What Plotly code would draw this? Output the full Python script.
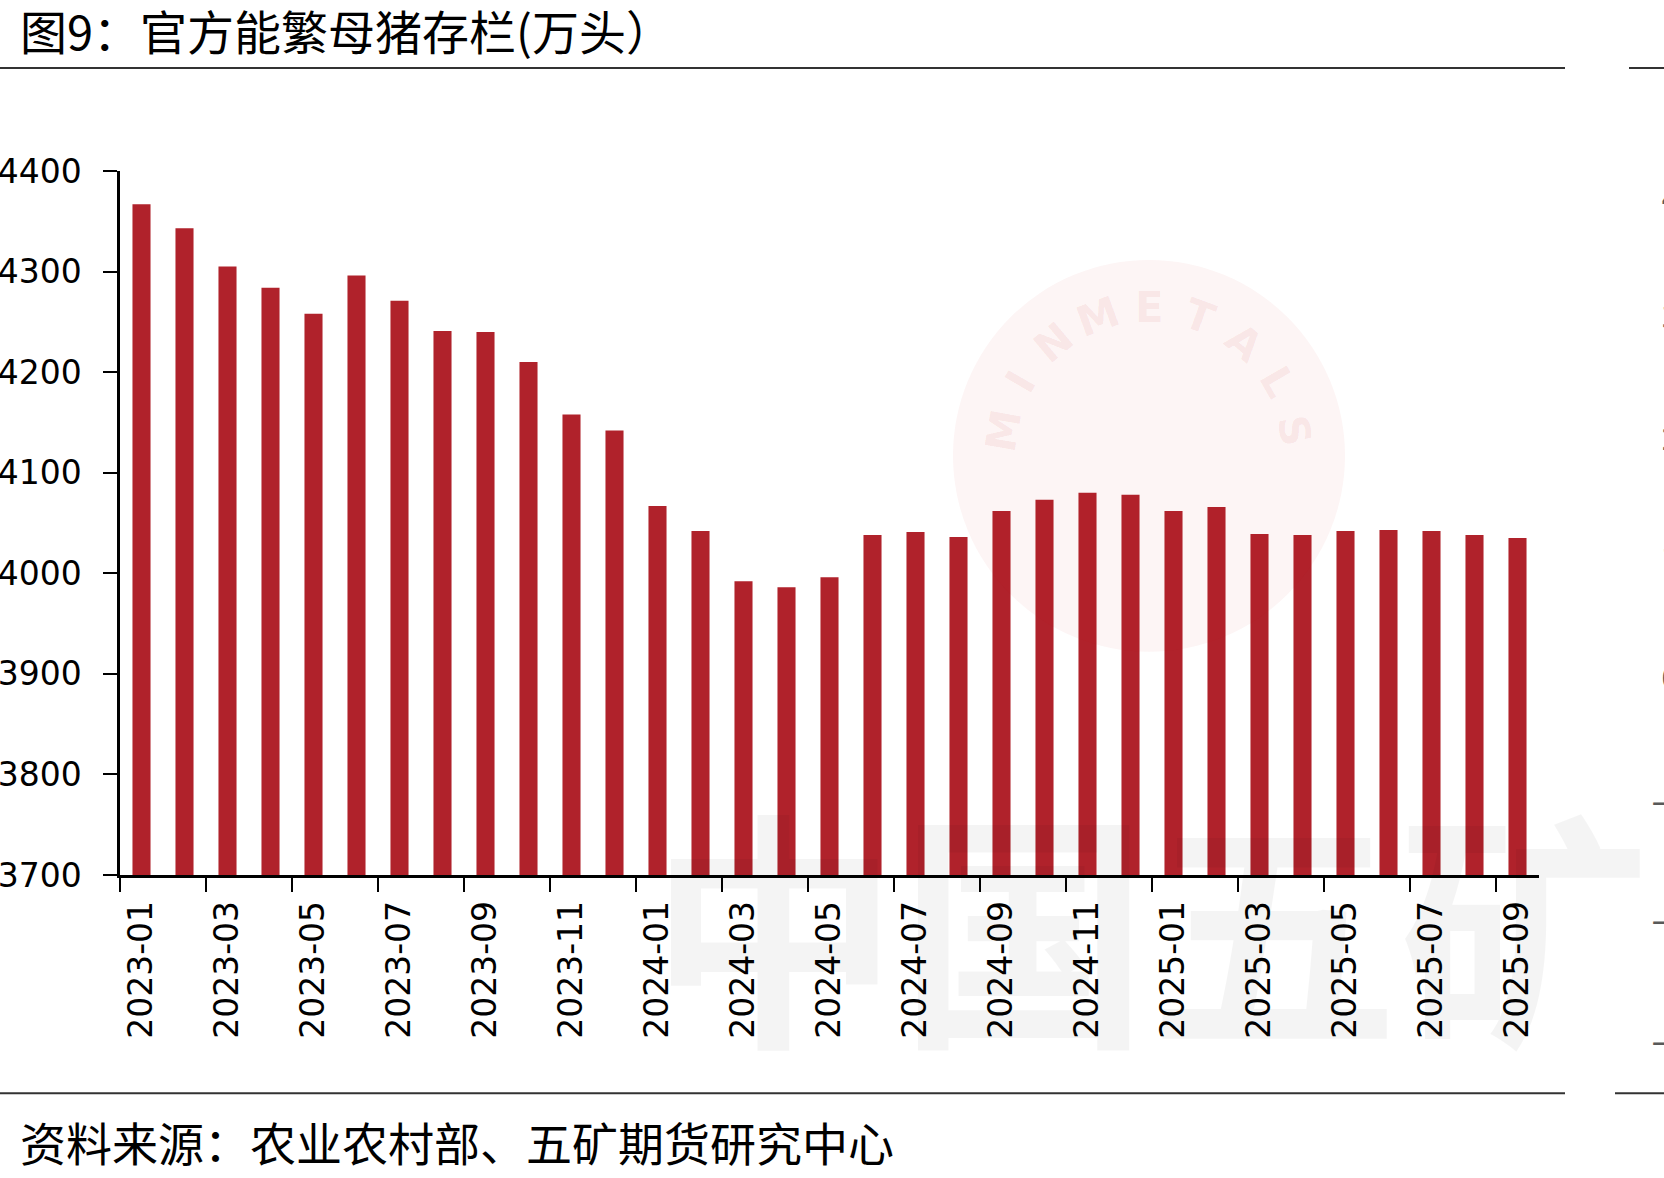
import plotly.graph_objects as go
import math

months = ["2023-01","2023-02","2023-03","2023-04","2023-05","2023-06","2023-07","2023-08","2023-09","2023-10","2023-11","2023-12",
          "2024-01","2024-02","2024-03","2024-04","2024-05","2024-06","2024-07","2024-08","2024-09","2024-10","2024-11","2024-12",
          "2025-01","2025-02","2025-03","2025-04","2025-05","2025-06","2025-07","2025-08","2025-09"]
sows = [4367, 4343, 4305, 4284, 4258, 4296, 4271, 4241, 4240, 4210, 4158, 4142,
        4067, 4042, 3992, 3986, 3996, 4038, 4041, 4036, 4062, 4073, 4080, 4078,
        4062, 4066, 4039, 4038, 4042, 4043, 4042, 4038, 4035]
y_ticks = [3700, 3800, 3900, 4000, 4100, 4200, 4300, 4400]
side_labels = ["4", "3", "2", "1", "0", "−1", "−2", "−3"]

title_text = "图9：官方能繁母猪存栏(万头）"
source_text = "资料来源：农业农村部、五矿期货研究中心"

W_PX, H_PX = 1664, 1178
L, R, T, B = 120, 1539, 171, 875.5
PW, PH = R - L, B - T

def px(x):
    return (x - L) / PW

def py(y):
    return (B - y) / PH

fig = go.Figure()
fig.add_trace(go.Bar(x=months, y=sows, marker_color="#B0222B", marker_line_width=0, width=0.42))

shapes = []
for y, segs in [(68, [(0, 1565), (1629, 1664)]), (1094, [(0, 1565), (1615, 1664)])]:
    for x0, x1 in segs:
        shapes.append(dict(type="line", xref="paper", yref="paper", x0=px(x0), x1=px(x1), y0=py(y), y1=py(y),
                           line=dict(color="#333333", width=2)))
cx, cy, r = 1149, 456, 196
shapes.append(dict(type="circle", xref="paper", yref="paper", x0=px(cx - r), x1=px(cx + r), y0=py(cy + r), y1=py(cy - r),
                   fillcolor="rgba(200,30,30,0.045)", line=dict(width=0), layer="above"))

annotations = [
    dict(text=title_text, xref="paper", yref="paper", x=px(18), y=py(29), xanchor="left", yanchor="middle",
         showarrow=False, font=dict(family="Noto Sans CJK SC", size=47, color="#000000")),
    dict(text=source_text, xref="paper", yref="paper", x=px(18), y=py(1142), xanchor="left", yanchor="middle",
         showarrow=False, font=dict(family="Noto Sans CJK SC", size=46, color="#000000")),
    dict(text="中国五矿", xref="paper", yref="paper", x=px(1149), y=py(920), xanchor="center", yanchor="middle",
         showarrow=False, font=dict(family="Noto Sans CJK SC", size=250, color="rgba(0,0,0,0.045)", weight="bold")),
]
letters = "MINMETALS"
for i, ch in enumerate(letters):
    ang = 170 - i * 20
    rad = math.radians(ang)
    lx = cx + 148 * math.cos(rad)
    ly = cy - 148 * math.sin(rad)
    annotations.append(dict(text=ch, xref="paper", yref="paper", x=px(lx), y=py(ly), xanchor="center", yanchor="middle",
                            showarrow=False, textangle=90 - ang,
                            font=dict(family="DejaVu Sans", size=42, color="rgba(200,30,30,0.08)", weight="bold")))
side_y = [199, 318, 440, 560, 679, 803, 922, 1043]
for lab, yy in zip(side_labels, side_y):
    annotations.append(dict(text=lab, xref="paper", yref="paper", x=px(1659 if len(lab) == 1 else 1648), y=py(yy),
                            xanchor="left", yanchor="middle", showarrow=False,
                            font=dict(family="DejaVu Sans", size=30, color="#595959")))

fig.update_layout(
    width=W_PX, height=H_PX,
    margin=dict(l=L, r=W_PX - R, t=T, b=H_PX - B, pad=0, autoexpand=False),
    paper_bgcolor="white", plot_bgcolor="white",
    showlegend=False,
    bargap=0.58,
    shapes=shapes,
    annotations=annotations,
    xaxis=dict(type="category", tickmode="linear", tick0=0, dtick=2, tickson="boundaries",
               ticks="outside", ticklen=14, tickwidth=2, tickcolor="#000000",
               showline=True, linecolor="#000000", linewidth=2.5, automargin=False,
               tickangle=-90, showgrid=False, ticklabelstandoff=10,
               tickfont=dict(family="DejaVu Sans", size=33, color="#000000")),
    yaxis=dict(range=[3700, 4400], tickmode="array", tickvals=y_ticks,
               ticks="outside", ticklen=14, tickwidth=2, tickcolor="#000000",
               showline=True, linecolor="#000000", linewidth=2.5, showgrid=False, zeroline=False,
               ticklabelstandoff=15, automargin=False,
               tickfont=dict(family="DejaVu Sans", size=33, color="#000000")),
)

fig.write_html("out.html")
